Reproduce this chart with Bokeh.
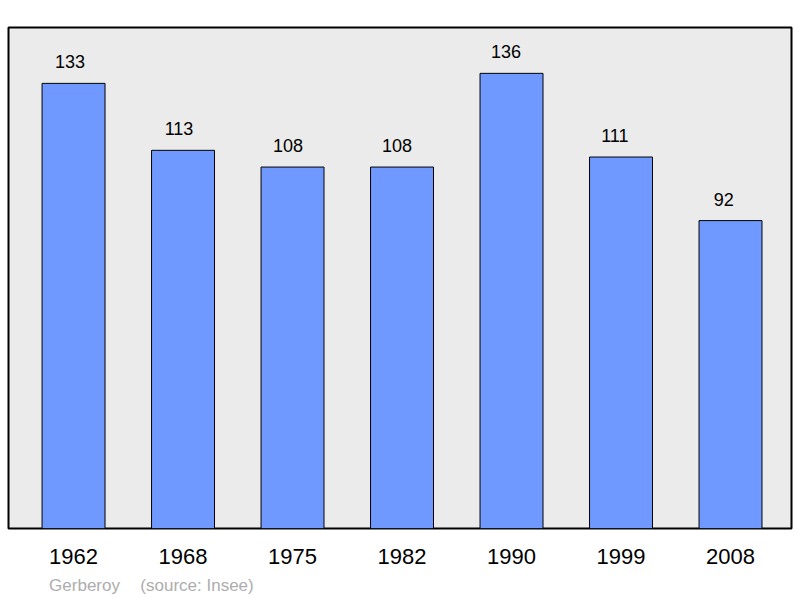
from bokeh.plotting import figure
from bokeh.models import ColumnDataSource, FixedTicker, Range1d, LinearAxis
from bokeh.core.properties import value
from bokeh.embed import file_html
from bokeh.resources import INLINE

years = ["1962", "1968", "1975", "1982", "1990", "1999", "2008"]
population = [133, 113, 108, 108, 136, 111, 92]
footer_texts = ["Gerberoy", "(source: Insee)"]
footer_pos = [0.1005, 1.128]

xs = list(range(len(years)))
label_shift = [-3.5 - 0.53 * i for i in xs]
src = ColumnDataSource(dict(x=xs, top=population, lab=[str(v) for v in population],
                            dx=label_shift))

p = figure(frame_width=783, frame_height=501, output_backend="svg", toolbar_location=None,
           x_range=Range1d(-0.594, 6.557), y_range=Range1d(0, 149.7),
           min_border_left=8, min_border_right=7, min_border_top=27, min_border_bottom=60)
p.background_fill_color = "#ebebeb"
p.border_fill_color = "white"
p.outline_line_color = "black"
p.outline_line_width = 2
p.xgrid.visible = False
p.ygrid.visible = False
p.yaxis.visible = False

p.vbar(x="x", top="top", width=0.575, bottom=0, source=src,
       fill_color="#7099ff", line_color="black", line_width=1)
p.text(x="x", y="top", text="lab", source=src, text_align="center", text_baseline="bottom",
       x_offset="dx", y_offset=-15, text_font=value("Liberation Sans"),
       text_font_size="18px", text_color="black")

ax = p.xaxis[0]
ax.ticker = FixedTicker(ticks=xs)
ax.major_label_overrides = {i: y for i, y in enumerate(years)}
ax.axis_line_color = None
ax.major_tick_line_color = None
ax.minor_tick_line_color = None
ax.major_label_text_font = "Liberation Sans"
ax.major_label_text_font_size = "22px"
ax.major_label_text_color = "black"
ax.major_label_standoff = 14

ax2 = LinearAxis(ticker=FixedTicker(ticks=footer_pos),
                 major_label_overrides={footer_pos[i]: t for i, t in enumerate(footer_texts)})
ax2.axis_line_color = None
ax2.major_tick_line_color = None
ax2.minor_tick_line_color = None
ax2.major_label_text_font = "Liberation Sans"
ax2.major_label_text_font_size = "17px"
ax2.major_label_text_color = "#adadad"
ax2.major_label_standoff = 3
p.add_layout(ax2, "below")

open("out.html", "w").write(file_html(p, INLINE))
